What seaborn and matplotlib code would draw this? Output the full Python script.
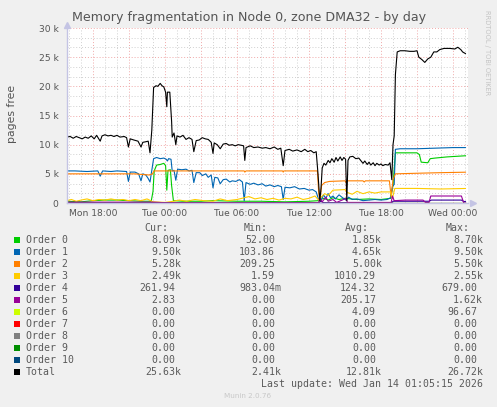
import pandas as pd
import numpy as np
import matplotlib
matplotlib.use('Agg')
import matplotlib.pyplot as plt
import matplotlib.ticker as mticker
from matplotlib.patches import Rectangle
import seaborn as sns

# hours relative to Mon 18:00, values in thousands of pages
total_t = [-2.2, -1.9, -1.65, -1.4, -1.15, -0.9, -0.65, -0.4, -0.15, 0.1, 0.3, 0.6, 0.75, 1.0, 1.25,
           1.5, 1.75, 2.0, 2.25, 2.6, 2.8, 2.95, 3.1, 3.4, 3.75, 4.0, 4.15, 4.4, 4.6, 4.75,
           4.9, 5.05, 5.25, 5.4, 5.6, 5.75, 5.9, 6.05, 6.15, 6.2, 6.4, 6.55, 6.6, 6.75, 6.9,
           7.0, 7.25, 7.5, 7.75, 8.0, 8.25, 8.4, 8.6, 8.85, 9.1, 9.35, 9.6, 9.85, 10.0, 10.1,
           10.35, 10.6, 10.85, 11.1, 11.35, 11.6, 11.85, 12.1, 12.35, 12.55, 12.65, 12.75, 13.1, 13.4, 13.75,
           14.1, 14.4, 14.75, 15.1, 15.4, 15.65, 15.85, 16.0, 16.35, 16.65, 17.0, 17.35, 17.65, 17.9, 18.15,
           18.4, 18.6, 18.75, 18.9, 19.0, 19.1, 19.25, 19.4, 19.6, 19.75, 19.9, 20.1, 20.25, 20.4, 20.6,
           20.75, 20.9, 21.05, 21.15, 21.25, 21.4, 21.65, 21.9, 22.15, 22.35, 22.5, 22.65, 22.85, 23.0, 23.15,
           23.35, 23.5, 23.65, 23.85, 24.0, 24.15, 24.35, 24.6, 24.75, 24.9, 25.0, 25.1, 25.2, 25.35, 25.6,
           26.0, 26.4, 26.75, 27.0, 27.15, 27.4, 27.65, 27.9, 28.15, 28.4, 28.65, 28.9, 29.25, 29.75, 30.15,
           30.4, 30.65, 30.8, 31.05]
total_k = [11.3, 11.4, 11.1, 11.4, 11.2, 11.0, 11.3, 11.1, 11.5, 11.0, 11.6, 10.6, 11.5, 11.7, 11.5,
           11.6, 11.4, 11.6, 11.3, 11.4, 11.2, 9.6, 11.0, 10.8, 10.6, 9.6, 10.4, 10.5, 10.6, 8.6,
           12.5, 19.8, 20.1, 20.0, 20.5, 20.1, 19.9, 19.0, 16.5, 19.0, 19.0, 14.0, 11.3, 12.0, 10.0,
           11.5, 11.3, 11.6, 10.9, 11.2, 10.9, 8.8, 10.7, 10.8, 11.2, 11.0, 10.9, 10.4, 8.5, 10.3,
           10.0, 9.3, 10.1, 10.2, 9.9, 10.0, 9.8, 10.0, 9.9, 9.8, 7.3, 9.5, 9.8, 9.5, 9.6,
           9.4, 9.5, 9.3, 9.6, 9.2, 9.4, 6.4, 9.0, 9.2, 8.9, 9.1, 8.8, 9.2, 8.8, 9.0,
           8.6, 8.8, 5.0, 0.4, 2.5, 6.0, 6.8, 6.5, 7.3, 6.9, 7.6, 7.0, 7.8, 7.2, 7.9,
           7.3, 7.8, 7.5, 0.4, 7.3, 7.9, 8.0, 7.6, 7.7, 7.2, 6.8, 7.2, 6.6, 7.0, 6.5,
           6.9, 6.4, 6.8, 6.5, 6.7, 6.4, 6.6, 6.5, 6.9, 4.0, 10.0, 11.5, 22.0, 25.9, 26.1,
           26.1, 26.0, 26.0, 26.1, 25.0, 24.6, 24.1, 24.7, 25.0, 25.9, 25.9, 26.3, 26.5, 26.5, 26.4,
           26.7, 26.3, 25.9, 25.6]

o1_t = [-2.2, -1.5, -0.5, 0.4, 0.6, 0.8, 1.5, 2.0, 2.8, 2.95, 3.1, 3.5, 3.8, 4.0, 4.15,
        4.4, 4.6, 4.75, 4.9, 5.05, 5.3, 5.6, 5.9, 6.1, 6.2, 6.3, 6.5, 6.6, 6.75, 6.9,
        7.05, 7.4, 7.75, 8.0, 8.25, 8.4, 8.6, 8.9, 9.1, 9.4, 9.6, 9.85, 10.0, 10.15, 10.4,
        10.6, 10.85, 11.1, 11.4, 11.6, 11.9, 12.2, 12.45, 12.6, 12.75, 13.1, 13.4, 13.75, 14.1, 14.4,
        14.75, 15.1, 15.4, 15.7, 15.85, 16.0, 16.4, 16.8, 17.2, 17.6, 18.0, 18.3, 18.6, 18.8, 19.0,
        19.2, 19.4, 19.6, 19.8, 20.0, 20.2, 20.5, 20.8, 21.1, 21.3, 21.6, 22.0, 22.5, 23.0, 23.5,
        24.0, 24.5, 24.8, 24.95, 25.1, 25.2, 25.6, 27.0, 28.5, 30.0, 31.05]
o1_k = [5.5, 5.5, 5.4, 5.5, 4.6, 5.5, 5.4, 5.5, 5.4, 3.7, 5.3, 5.3, 5.0, 3.8, 5.0,
        4.8, 4.2, 3.6, 5.6, 7.6, 7.8, 7.6, 7.7, 7.5, 7.2, 7.6, 7.5, 5.5, 5.6, 3.9,
        5.8, 5.7, 5.8, 5.5, 5.6, 3.5, 5.2, 5.2, 4.7, 5.0, 4.4, 4.8, 2.6, 4.4, 4.3,
        3.3, 4.0, 4.1, 3.6, 3.8, 3.7, 4.0, 3.6, 0.4, 3.5, 3.2, 3.4, 3.1, 3.3, 2.9,
        3.1, 2.8, 3.0, 2.8, 0.6, 2.7, 2.6, 2.8, 2.4, 2.5, 2.2, 2.3, 1.9, 0.6, 0.4,
        1.4, 0.8, 1.6, 0.9, 1.2, 0.7, 1.4, 0.9, 0.5, 1.0, 0.6, 0.7, 0.4, 0.5, 0.6,
        0.5, 0.6, 0.9, 2.8, 3.2, 9.2, 9.3, 9.3, 9.4, 9.5, 9.5]

o0_t = [-2.2, -1.0, 0.0, 1.0, 2.0, 3.0, 4.0, 4.85, 5.0, 5.1, 5.3, 5.6, 5.9, 6.05, 6.15,
        6.25, 6.45, 6.55, 6.7, 7.5, 9.0, 10.0, 12.0, 14.0, 16.0, 18.0, 18.8, 19.2, 19.6, 20.0,
        20.5, 21.0, 22.0, 23.0, 24.0, 24.8, 25.0, 25.2, 27.0, 27.2, 27.35, 27.9, 28.1, 28.5, 29.5,
        31.05]
o0_k = [0.3, 0.2, 0.4, 0.5, 0.5, 0.4, 0.3, 0.3, 2.0, 5.5, 6.5, 6.6, 6.8, 6.4, 2.2,
        5.6, 5.7, 3.0, 0.4, 0.3, 0.3, 0.4, 0.3, 0.3, 0.2, 0.3, 0.4, 0.8, 0.5, 0.9,
        0.6, 0.8, 0.6, 0.7, 0.6, 0.8, 3.0, 8.6, 8.6, 8.3, 7.0, 6.9, 7.6, 7.7, 7.9,
        8.1]

o2_t = [-2.2, 0.0, 2.0, 3.5, 4.0, 4.7, 4.95, 5.1, 10.0, 12.6, 12.65, 12.75, 15.8, 15.85, 15.9,
        18.7, 18.8, 18.9, 19.05, 19.3, 19.7, 21.0, 21.1, 21.2, 22.5, 22.6, 22.7, 24.7, 24.85, 25.0,
        25.2, 27.0, 29.0, 31.05]
o2_k = [5.0, 5.0, 5.0, 5.0, 4.9, 4.8, 5.0, 5.5, 5.5, 5.5, 5.3, 5.5, 5.5, 5.3, 5.5,
        5.5, 2.0, 0.3, 3.0, 3.5, 3.7, 3.8, 3.5, 3.8, 3.8, 3.6, 3.8, 3.8, 1.0, 4.0,
        5.0, 5.1, 5.2, 5.28]

o3_t = [-2.2, -1.8, -1.4, -1.0, -0.5, 0.0, 0.5, 1.0, 1.5, 2.0, 2.5, 3.0, 3.5, 4.0, 4.5,
        5.0, 6.0, 6.7, 7.2, 7.8, 8.5, 9.2, 10.0, 10.6, 11.2, 12.0, 12.6, 13.0, 13.5, 14.0,
        14.5, 15.0, 15.5, 16.0, 16.5, 17.0, 17.5, 18.0, 18.5, 18.8, 19.0, 19.3, 19.6, 20.0, 21.0,
        21.2, 21.6, 22.0, 22.5, 23.0, 23.5, 24.0, 24.8, 24.95, 25.15, 27.0, 28.0, 29.0, 31.05]
o3_k = [0.4, 0.6, 0.3, 0.5, 0.7, 0.4, 0.6, 0.5, 0.7, 0.5, 0.6, 0.4, 0.6, 0.4, 0.7,
        0.2, 0.1, 0.3, 0.5, 0.3, 0.6, 0.4, 0.3, 0.7, 0.4, 0.6, 0.9, 1.1, 0.7, 0.9,
        0.6, 0.8, 0.5, 0.8, 0.7, 1.0, 0.6, 0.8, 1.2, 0.5, 1.0, 1.6, 1.3, 2.2, 2.3,
        1.8, 1.5, 2.0, 1.6, 1.9, 1.7, 1.9, 1.9, 0.8, 2.5, 2.5, 2.45, 2.4, 2.49]

o4_t = [-2.2, 18.8, 19.0, 19.2, 24.9, 25.0, 28.0, 28.2, 30.7, 30.9, 31.05]
o4_k = [0.05, 0.05, 0.3, 0.05, 0.05, 0.3, 0.3, 0.5, 0.5, 0.26, 0.26]

o5_t = [-2.2, 5.0, 6.0, 18.8, 18.9, 19.1, 19.4, 19.6, 20.0, 20.3, 21.1, 21.2, 22.0, 24.85, 24.95,
        25.1, 26.0, 27.5, 27.7, 28.0, 28.15, 30.7, 30.9, 31.05]
o5_k = [0.15, 0.15, 0.05, 0.05, 0.9, 0.2, 1.0, 0.3, 0.6, 0.1, 0.8, 0.1, 0.1, 0.1, 1.2,
        0.4, 0.5, 0.5, 0.1, 0.1, 1.2, 1.2, 0.0, 0.0]

flat_t = [-2.2, 31.05]
flat_k = [0.0, 0.0]

series = [
    ('Order 0', o0_t, o0_k, '#00CC00'),
    ('Order 1', o1_t, o1_k, '#0066B3'),
    ('Order 2', o2_t, o2_k, '#FF8000'),
    ('Order 3', o3_t, o3_k, '#FFCC00'),
    ('Order 4', o4_t, o4_k, '#330099'),
    ('Order 5', o5_t, o5_k, '#990099'),
    ('Order 6', flat_t, flat_k, '#CCFF00'),
    ('Order 7', flat_t, flat_k, '#FF0000'),
    ('Order 8', flat_t, flat_k, '#808080'),
    ('Order 9', flat_t, flat_k, '#008F00'),
    ('Order 10', flat_t, flat_k, '#00487D'),
    ('Total', total_t, total_k, '#000000'),
]

cur_vals = ['8.09k', '9.50k', '5.28k', '2.49k', '261.94', '2.83', '0.00', '0.00', '0.00', '0.00', '0.00', '25.63k']
min_vals = ['52.00', '103.86', '209.25', '1.59', '983.04m', '0.00', '0.00', '0.00', '0.00', '0.00', '0.00', '2.41k']
avg_vals = ['1.85k', '4.65k', '5.00k', '1010.29', '124.32', '205.17', '4.09', '0.00', '0.00', '0.00', '0.00', '12.81k']
max_vals = ['8.70k', '9.50k', '5.50k', '2.55k', '679.00', '1.62k', '96.67', '0.00', '0.00', '0.00', '0.00', '26.72k']

x_labels = ['Mon 18:00', 'Tue 00:00', 'Tue 06:00', 'Tue 12:00', 'Tue 18:00', 'Wed 00:00']

W, H = 497, 407
sns.set_style('white')
plt.rcParams['font.family'] = ['DejaVu Sans']
fig = plt.figure(figsize=(W / 100, H / 100), dpi=100, facecolor='#F0F0F0')
ax = fig.add_axes([67 / W, 1 - 203 / H, 401 / W, 175 / H])
ax.set_facecolor('white')

for name, t, k, col in series:
    df = pd.DataFrame({'hour': t, 'pages': np.array(k) * 1000})
    sns.lineplot(data=df, x='hour', y='pages', ax=ax, color=col, linewidth=0.8,
                 estimator=None, sort=False)

ax.set_xlim(-2.167, 31.25)
ax.set_ylim(0, 30000)

ax.xaxis.set_major_locator(mticker.MultipleLocator(3))
ax.xaxis.set_minor_locator(mticker.MultipleLocator(1))
ax.xaxis.set_major_formatter(mticker.FuncFormatter(
    lambda v, p: x_labels[int(round(v / 6))] if abs(v / 6 - round(v / 6)) < 1e-6 and 0 <= round(v / 6) < len(x_labels) else ''))
ax.yaxis.set_major_locator(mticker.MultipleLocator(5000))
ax.yaxis.set_minor_locator(mticker.MultipleLocator(5000 / 3))
ax.yaxis.set_major_formatter(mticker.FuncFormatter(
    lambda v, p: '0' if v == 0 else '%d k' % round(v / 1000)))

ax.grid(which='major', color='#F0A8A8', linestyle=(0, (1, 2)), linewidth=0.7)
ax.grid(which='minor', color='#D0D0D0', linestyle=(0, (1, 2)), linewidth=0.7)
ax.set_axisbelow(True)
ax.tick_params(which='both', length=0)
ax.tick_params(axis='x', labelsize=6.6, labelcolor='#555555', pad=4)
ax.tick_params(axis='y', labelsize=6.6, labelcolor='#555555', pad=6)
ax.set_xlabel('')
ax.set_ylabel('')

for s in ['top', 'right']:
    ax.spines[s].set_visible(False)
for s in ['left', 'bottom']:
    ax.spines[s].set_color('#C4C4E4')
    ax.spines[s].set_linewidth(1.0)
    ax.spines[s].set_zorder(5)
ax.plot([0], [1.02], marker='^', color='#C4C4E4', markersize=4, transform=ax.transAxes, clip_on=False)
ax.plot([1.012], [0], marker='>', color='#C4C4E4', markersize=4, transform=ax.transAxes, clip_on=False)

fig.text(249 / W, 1 - 17 / H, 'Memory fragmentation in Node 0, zone DMA32 - by day',
         ha='center', va='center', fontsize=9.1, color='#555555')
fig.text(12 / W, 1 - 114 / H, 'pages free', rotation=90, ha='center', va='center',
         fontsize=7.8, color='#555555')
fig.text(487 / W, 1 - 53 / H, 'RRDTOOL / TOBI OETIKER', rotation=270, ha='center', va='center',
         fontsize=4.8, color='#C4C4C4')

# legend table
mono = 'DejaVu Sans Mono'
fs = 7.15
tc = '#5A5A5A'
cw = 5.97
col_end = [181, 281, 382, 483]
hdr_end = [168, 268, 369, 470]
for hx, h in zip(hdr_end, ['Cur:', 'Min:', 'Avg:', 'Max:']):
    fig.text(hx / W, 1 - 228 / H, h, ha='right', va='center', family=mono, fontsize=fs, color=tc)

for i, (name, t, k, col) in enumerate(series):
    y = 240 + 12 * i
    fig.patches.append(Rectangle((14 / W, 1 - (y + 3) / H), 6 / W, 6 / H, transform=fig.transFigure,
                                 facecolor=col, edgecolor='none'))
    fig.text(26 / W, 1 - y / H, name, ha='left', va='center', family=mono, fontsize=fs, color=tc)
    for xe, vals in zip(col_end, [cur_vals, min_vals, avg_vals, max_vals]):
        v = vals[i]
        x = xe if v[-1].isalpha() else xe - cw
        fig.text(x / W, 1 - y / H, v, ha='right', va='center', family=mono, fontsize=fs, color=tc)

fig.text(483 / W, 1 - 384 / H, 'Last update: Wed Jan 14 01:05:15 2026', ha='right', va='center',
         family=mono, fontsize=fs, color=tc)
fig.text(248 / W, 1 - 396 / H, 'Munin 2.0.76', ha='center', va='center', fontsize=5.2, color='#C8C8C8')

fig.savefig('out.png', dpi=100, facecolor=fig.get_facecolor())
